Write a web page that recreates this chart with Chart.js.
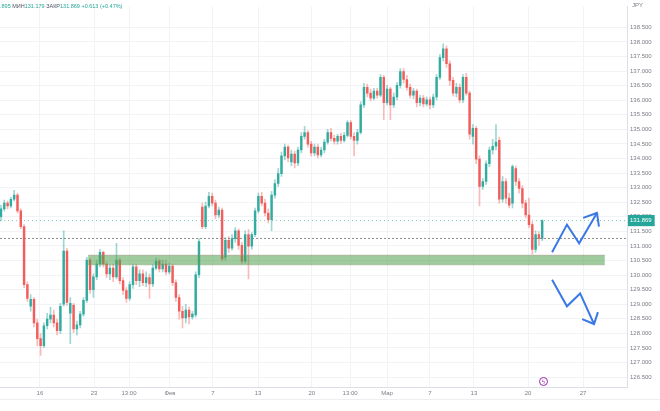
<!DOCTYPE html>
<html>
<head>
<meta charset="utf-8">
<script src="https://cdn.jsdelivr.net/npm/chart.js@4.4.0/dist/chart.umd.min.js"></script>
<style>
    body { margin: 0; background: #fff; }
    #wrap { position: relative; width: 660px; height: 411px; }
    #legend {
        position: absolute; left: 0; top: 3px;
        font: 5.5px "Liberation Sans", Arial, sans-serif;
        color: #26a69a; white-space: nowrap;
    }
    #legend .k { color: #4f5560; }
    #unit {
        position: absolute; left: 632px; top: 2px;
        font: 6px "Liberation Sans", Arial, sans-serif; color: #7a7d86;
    }
    #bottomLine { position: absolute; left: 0; top: 399px; width: 660px; height: 1px; background: #eceef2; }
    #flash {
        position: absolute; left: 539px; top: 377px; width: 7px; height: 7px;
        border: 1px solid #9c27b0; border-radius: 50%;
        font: 6px "DejaVu Sans", sans-serif; color: #9c27b0;
        text-align: center; line-height: 7px;
    }
</style>
</head>
<body>
<div id="wrap">
    <canvas id="priceChart" width="660" height="411"></canvas>
    <div id="legend">.895 <span class="k">МИН</span>131.179 <span class="k">ЗАКР</span>131.869 +0.613 (+0.47%)</div>
    <div id="unit">JPY</div>
    <div id="bottomLine"></div>
    <div id="flash">ϟ</div>
</div>
<script>
// USD/JPY candles
const opens = [
    132.00, 132.27, 132.47, 132.37, 132.60, 132.74, 132.20, 131.66, 129.67, 128.93,
    129.17, 128.36, 127.82, 127.58, 128.26, 128.49, 128.63, 128.36, 128.09, 129.00,
    130.82, 128.69, 128.96, 128.15, 128.29, 128.66, 129.13, 130.51, 129.50, 129.94,
    130.38, 130.78, 130.38, 130.04, 130.24, 129.94, 130.51, 129.81, 129.47, 129.20,
    129.67, 130.28, 129.81, 130.04, 129.74, 129.91, 129.70, 130.24, 130.48, 130.21,
    130.38, 130.11, 130.31, 129.74, 129.23, 128.76, 128.53, 128.80, 128.56, 128.63,
    130.01, 132.33, 131.66, 132.37, 132.70, 132.47, 132.06, 132.23, 130.61, 131.19,
    130.92, 131.25, 131.52, 131.02, 130.48, 131.39, 130.99, 131.39, 132.20, 132.70,
    132.47, 132.13, 131.90, 132.74, 133.14, 133.48, 134.09, 134.39, 133.88, 134.15,
    133.85, 134.29, 134.76, 134.89, 134.49, 134.19, 134.39, 134.12, 134.29, 134.56,
    134.89, 134.69, 134.59, 134.76, 134.62, 134.79, 135.23, 134.76, 134.62, 134.89,
    135.84, 136.44, 136.24, 136.07, 136.31, 136.17, 136.78, 135.91, 136.38, 135.84,
    136.11, 136.51, 136.98, 136.71, 136.44, 136.17, 136.31, 135.91, 136.07, 135.87,
    136.01, 135.84, 136.11, 136.78, 137.46, 137.76, 137.25, 136.68, 136.24, 136.44,
    136.01, 136.78, 136.24, 134.76, 135.03, 133.98, 133.04, 133.21, 133.82, 134.29,
    134.42, 134.62, 132.60, 133.21, 132.64, 132.47, 133.65, 133.21, 132.97, 132.47,
    132.06, 131.73, 130.88, 131.39, 131.26
];
const highs = [
    132.40, 132.57, 132.54, 132.67, 132.91, 132.81, 132.27, 131.73, 129.77, 129.33,
    129.23, 128.49, 127.99, 128.36, 128.69, 128.90, 128.80, 128.49, 129.03, 131.52,
    130.92, 129.23, 129.03, 128.42, 128.76, 129.23, 130.61, 130.58, 130.04, 130.51,
    130.88, 130.82, 130.45, 130.35, 130.38, 131.09, 130.58, 129.91, 129.57, 129.77,
    130.38, 130.38, 130.18, 130.18, 130.11, 130.04, 130.35, 130.58, 130.55, 130.51,
    130.51, 130.41, 130.38, 129.84, 129.33, 128.93, 129.00, 128.90, 128.76, 130.11,
    131.25, 132.47, 132.50, 132.84, 132.81, 132.57, 132.33, 132.30, 131.29, 131.32,
    131.39, 131.63, 131.59, 131.12, 131.52, 131.56, 131.46, 132.30, 132.81, 132.84,
    132.60, 132.27, 132.87, 133.28, 133.65, 134.22, 134.49, 134.46, 134.29, 134.25,
    134.39, 134.89, 135.10, 134.96, 134.59, 134.49, 134.49, 134.39, 134.66, 135.00,
    135.03, 134.79, 134.83, 134.86, 134.89, 135.30, 135.30, 134.89, 135.00, 135.94,
    136.58, 136.55, 136.38, 136.41, 136.41, 136.88, 136.85, 136.51, 136.44, 136.24,
    136.61, 137.08, 137.08, 136.85, 136.55, 136.41, 136.38, 136.17, 136.17, 136.11,
    136.11, 136.21, 136.88, 137.56, 137.93, 137.86, 137.35, 136.78, 136.58, 136.55,
    136.88, 136.92, 136.31, 135.16, 135.10, 134.09, 133.31, 133.92, 134.39, 134.66,
    135.16, 134.73, 133.38, 133.31, 132.81, 133.78, 133.75, 133.31, 133.07, 132.57,
    132.64, 131.83, 131.52, 131.49, 131.895
];
const lows = [
    131.86, 132.20, 132.27, 132.30, 132.54, 132.13, 131.59, 129.57, 129.10, 128.76,
    128.22, 127.58, 127.24, 127.51, 128.15, 128.36, 128.22, 127.95, 127.99, 128.93,
    128.96, 127.65, 128.02, 127.95, 128.19, 128.59, 129.06, 129.37, 129.23, 129.84,
    130.28, 130.28, 129.91, 129.84, 129.77, 129.87, 129.70, 129.33, 129.06, 129.13,
    129.54, 129.67, 129.60, 129.64, 129.60, 129.20, 129.60, 130.18, 130.11, 130.11,
    130.01, 130.04, 129.64, 129.10, 128.49, 128.19, 128.36, 128.32, 128.49, 128.56,
    129.91, 131.59, 131.59, 132.30, 132.37, 131.93, 131.96, 130.48, 130.51, 130.78,
    130.85, 131.12, 130.88, 130.38, 130.41, 129.87, 130.88, 131.32, 132.13, 132.37,
    132.03, 131.79, 131.52, 132.64, 133.04, 133.38, 133.95, 133.88, 133.75, 133.68,
    133.75, 134.19, 134.66, 134.39, 134.09, 134.09, 134.02, 134.05, 134.19, 134.49,
    134.59, 134.49, 134.49, 134.52, 134.56, 134.73, 134.66, 134.09, 134.49, 134.83,
    135.74, 136.11, 135.97, 136.01, 136.07, 136.11, 135.33, 135.84, 135.33, 135.74,
    136.01, 136.41, 136.58, 136.34, 136.07, 136.04, 135.77, 135.80, 135.77, 135.80,
    135.70, 135.74, 136.01, 136.71, 137.35, 137.12, 136.51, 136.14, 136.11, 135.91,
    135.91, 136.17, 134.66, 134.49, 133.82, 132.37, 132.94, 133.11, 133.72, 134.15,
    134.29, 132.47, 132.50, 132.47, 132.30, 132.30, 133.07, 132.81, 132.30, 131.96,
    131.63, 130.72, 130.78, 131.02, 131.179
];
const closes = [
    132.27, 132.47, 132.37, 132.60, 132.74, 132.20, 131.66, 129.67, 129.20, 129.17,
    128.36, 127.82, 127.58, 128.26, 128.49, 128.63, 128.36, 128.09, 128.93, 130.82,
    129.06, 129.03, 128.15, 128.29, 128.66, 129.13, 130.51, 129.50, 129.94, 130.38,
    130.78, 130.38, 130.04, 130.24, 129.94, 130.51, 129.81, 129.47, 129.20, 129.67,
    130.28, 129.81, 130.04, 129.74, 129.91, 129.70, 130.24, 130.48, 130.21, 130.38,
    130.11, 130.31, 129.74, 129.23, 128.76, 128.53, 128.80, 128.56, 128.66, 130.01,
    131.15, 131.66, 132.37, 132.70, 132.47, 132.06, 132.23, 130.55, 131.19, 130.92,
    131.25, 131.52, 131.02, 130.48, 131.39, 130.99, 131.39, 132.20, 132.70, 132.47,
    132.13, 131.90, 132.74, 133.14, 133.48, 134.09, 134.39, 134.02, 134.15, 133.85,
    134.29, 134.76, 134.89, 134.49, 134.19, 134.39, 134.12, 134.29, 134.56, 134.89,
    134.69, 134.59, 134.76, 134.62, 134.79, 135.23, 134.76, 134.62, 134.89, 135.84,
    136.44, 136.24, 136.07, 136.31, 136.17, 136.78, 135.91, 136.38, 135.84, 136.11,
    136.51, 136.98, 136.71, 136.44, 136.17, 136.31, 135.91, 136.07, 135.87, 136.01,
    135.84, 136.11, 136.78, 137.46, 137.76, 137.25, 136.68, 136.24, 136.44, 136.01,
    136.78, 136.24, 134.83, 135.03, 133.98, 133.04, 133.21, 133.82, 134.29, 134.42,
    134.56, 132.60, 133.21, 132.64, 132.40, 133.72, 133.21, 132.97, 132.47, 132.06,
    131.73, 130.88, 131.39, 131.26, 131.869
];

// axis labels
const priceTicks = [126.5, 127, 127.5, 128, 128.5, 129, 129.5, 130, 130.5, 131, 131.5, 132,
    132.5, 133, 133.5, 134, 134.5, 135, 135.5, 136, 136.5, 137, 137.5, 138, 138.5];
const dateTickIndex = [11.8, 28.2, 38.8, 51.2, 64.2, 77.9, 94.2, 105.8, 117, 130, 143.3, 159.7, 176.4];
const dateTickLabels = ["16", "23", "13:00", "Фев", "7", "13", "20", "13:00", "Мар", "7", "13", "20", "27"];

const lastPrice = 131.869;
const prevClose = 131.256;

// support zone and projection arrows (candle index, price)
const zoneFrom = 26.4, zoneTo = 183.0;
const zoneTop = 130.68, zoneBottom = 130.35;
const upPathX = [167.0, 171.5, 175.2, 180.6];
const upPathY = [130.78, 131.73, 131.09, 132.13];
const upHeadX = [176.4, 180.6, 181.2];
const upHeadY = [131.96, 132.13, 131.66];
const downPathX = [167.0, 171.5, 175.5, 179.7];
const downPathY = [129.84, 128.93, 129.37, 128.32];
const downHeadX = [176.1, 179.7, 180.9];
const downHeadY = [128.49, 128.32, 128.73];

const X_MIN = -0.3, X_MAX = 189.7;
const Y_MIN = 126.16, Y_MAX = 139.21;

const UP = "#26a69a";
const DOWN = "#ef5350";
const ARROW = "#3a78e6";

function isUp(i) {
    return closes[i] >= opens[i];
}

function toPoints(xs, ys) {
    return xs.map((x, i) => ({ x: x, y: ys[i] }));
}

const ctx = document.getElementById("priceChart").getContext("2d");

new Chart(ctx, {
    type: "bar",
    data: {
        datasets: [
            {
                type: "line", order: 0,
                data: toPoints(upPathX, upPathY),
                borderColor: ARROW, borderWidth: 2, pointRadius: 0, fill: false
            },
            {
                type: "line", order: 0,
                data: toPoints(upHeadX, upHeadY),
                borderColor: ARROW, borderWidth: 2, pointRadius: 0, fill: false
            },
            {
                type: "line", order: 0,
                data: toPoints(downPathX, downPathY),
                borderColor: ARROW, borderWidth: 2, pointRadius: 0, fill: false
            },
            {
                type: "line", order: 0,
                data: toPoints(downHeadX, downHeadY),
                borderColor: ARROW, borderWidth: 2, pointRadius: 0, fill: false
            },
            {
                // support zone
                type: "line", order: 1,
                data: toPoints([zoneFrom, zoneTo], [zoneTop, zoneTop]),
                borderColor: "rgba(150,140,120,0.5)", borderWidth: 1, pointRadius: 0,
                fill: { value: zoneBottom },
                backgroundColor: "rgba(80,160,80,0.55)"
            },
            {
                type: "line", order: 1,
                data: toPoints([zoneFrom, zoneTo], [zoneBottom, zoneBottom]),
                borderColor: "rgba(150,140,120,0.4)", borderWidth: 1, pointRadius: 0, fill: false
            },
            {
                // candle bodies
                order: 2,
                data: opens.map((o, i) => ({ x: i, y: [o, closes[i]] })),
                backgroundColor: (c) => isUp(c.dataIndex) ? "rgba(38,166,154,0.9)" : "rgba(239,83,80,0.9)",
                barThickness: 1.8,
                minBarLength: 1,
                grouped: false
            },
            {
                // wicks
                order: 3,
                data: lows.map((l, i) => ({ x: i, y: [l, highs[i]] })),
                backgroundColor: (c) => isUp(c.dataIndex) ? "rgba(38,166,154,0.45)" : "rgba(239,83,80,0.4)",
                barThickness: 1,
                grouped: false
            },
            {
                type: "line", order: 4,
                data: toPoints([X_MIN, X_MAX], [lastPrice, lastPrice]),
                borderColor: "rgba(38,166,154,0.6)", borderWidth: 1, borderDash: [1, 3],
                pointRadius: 0, fill: false
            },
            {
                type: "line", order: 4,
                data: toPoints([X_MIN, X_MAX], [prevClose, prevClose]),
                borderColor: "rgba(90,90,90,0.7)", borderWidth: 1, borderDash: [2, 2],
                pointRadius: 0, fill: false
            }
        ]
    },
    options: {
        responsive: false,
        animation: false,
        layout: { padding: 0 },
        plugins: {
            legend: { display: false },
            tooltip: { enabled: false }
        },
        scales: {
            x: {
                type: "linear",
                min: X_MIN,
                max: X_MAX,
                offset: false,
                afterBuildTicks: (scale) => {
                    scale.ticks = dateTickIndex.map(v => ({ value: v }));
                },
                afterFit: (scale) => { scale.height = 24; },
                ticks: {
                    autoSkip: false,
                    maxRotation: 0,
                    padding: 3,
                    color: "#7a7d86",
                    font: { size: 6, family: "'Liberation Sans', Arial, sans-serif" },
                    callback: (value, index) => dateTickLabels[index]
                },
                grid: { color: "#f1f3f6", drawTicks: false, offset: false },
                border: { color: "#dcdfe6" }
            },
            y: {
                position: "right",
                min: Y_MIN,
                max: Y_MAX,
                afterBuildTicks: (scale) => {
                    const t = priceTicks.map(v => ({ value: v }));
                    t.push({ value: lastPrice });
                    scale.ticks = t;
                },
                afterFit: (scale) => { scale.width = 33; },
                ticks: {
                    autoSkip: false,
                    padding: 3,
                    font: { size: 6, family: "'Liberation Sans', Arial, sans-serif" },
                    color: (c) => c.tick && c.tick.value === lastPrice ? "#ffffff" : "#7a7d86",
                    showLabelBackdrop: (c) => !!(c.tick && c.tick.value === lastPrice),
                    backdropColor: UP,
                    backdropPadding: { top: 2, bottom: 2, left: 2, right: 3 },
                    callback: (value) => Number(value).toFixed(3)
                },
                grid: {
                    color: (c) => c.tick && c.tick.value === lastPrice ? "rgba(0,0,0,0)" : "#f1f3f6",
                    drawTicks: false
                },
                border: { color: "#dcdfe6" }
            }
        }
    }
});
</script>
</body>
</html>
